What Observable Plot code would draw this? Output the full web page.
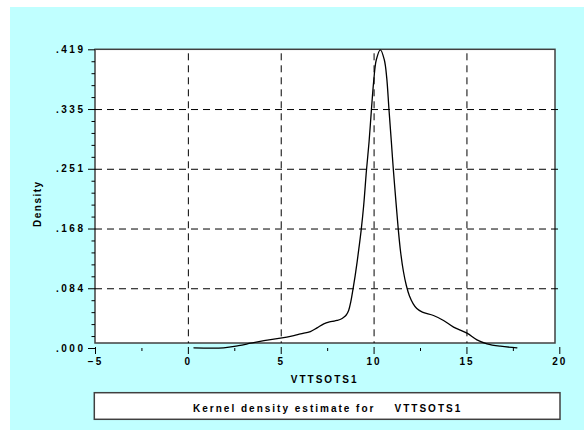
<!DOCTYPE html>
<html><head><meta charset="utf-8">
<script src="https://cdn.jsdelivr.net/npm/d3@7"></script>
<script src="https://cdn.jsdelivr.net/npm/@observablehq/plot@0.6"></script>
<style>
html,body{margin:0;padding:0;background:#fff;}
#chart svg text{letter-spacing:2px;}
#chart g[aria-label="y-axis tick label"] text{letter-spacing:2.5px;}
</style></head><body><div id="chart"></div>
<script>
const densityX = [0.3, 1.9, 2.7, 3.35, 4.07, 4.96, 5.68, 6.04, 6.57, 6.93, 7.29, 7.6, 7.83, 8.0, 8.2, 8.37, 8.5, 8.63, 8.75, 8.87, 8.98, 9.08, 9.18, 9.3, 9.44, 9.59, 9.73, 9.86, 9.98, 10.12, 10.34, 10.55, 10.68, 10.8, 10.93, 11.04, 11.18, 11.3, 11.43, 11.58, 11.74, 11.9, 12.1, 12.3, 12.6, 13.2, 13.74, 14.28, 15.0, 15.54, 16.08, 16.8, 17.69];
const densityY = [0.001, 0.001, 0.004, 0.0074, 0.0112, 0.0144, 0.0182, 0.0206, 0.0238, 0.029, 0.0346, 0.0372, 0.0383, 0.0393, 0.041, 0.0439, 0.047, 0.0533, 0.066, 0.084, 0.102, 0.12, 0.14, 0.165, 0.2006, 0.25, 0.29, 0.336, 0.375, 0.405, 0.419, 0.405, 0.38, 0.336, 0.29, 0.25, 0.205, 0.168, 0.135, 0.108, 0.088, 0.074, 0.063, 0.056, 0.051, 0.0463, 0.0393, 0.030, 0.0215, 0.0122, 0.0066, 0.0032, 0.001];
const xTicks = [-5, 0, 5, 10, 15, 20];
const xMinorTicks = [-2.5, 2.5, 7.5, 12.5, 17.5];
const xGridLines = [0, 5, 10, 15];
const yTicks = [0, 0.0838, 0.1676, 0.2514, 0.3352, 0.419];
const yTickLabels = [".000", ".084", ".168", ".251", ".335", ".419"];
const yMinorTicks = [0.01676, 0.03352, 0.05028, 0.06704, 0.10056, 0.11732, 0.13408, 0.15084, 0.18436, 0.20112, 0.21788, 0.23464, 0.26816, 0.28492, 0.30168, 0.31844, 0.35196, 0.36872, 0.38548, 0.40224];
const yGridLines = [0.0838, 0.1676, 0.2514, 0.3352];
const xLabel = "VTTSOTS1";
const yLabel = "Density";
const caption = "Kernel density estimate for\u00a0\u00a0\u00a0\u00a0VTTSOTS1";

const dash = "7,5";
const plot = Plot.plot({
  width: 584, height: 430,
  marginLeft: 95, marginRight: 24.7, marginTop: 49.3, marginBottom: 82,
  style: {fontFamily: "'Liberation Sans', Arial, sans-serif", fontSize: "10px", fontWeight: "bold", background: "transparent", color: "black"},
  x: {domain: [-5, 20]},
  y: {domain: [0, 0.419]},
  marks: [
    Plot.ruleY(yGridLines, {stroke: "black", strokeDasharray: dash, strokeWidth: 1}),
    Plot.ruleX(xGridLines, {stroke: "black", strokeDasharray: dash, strokeWidth: 1, insetTop: 4, insetBottom: 5}),
    Plot.line(densityX, {x: densityX, y: densityY, curve: "catmull-rom", stroke: "black", strokeWidth: 1.3}),
    Plot.axisY({ticks: yTicks, tickSize: 7, tickPadding: 3, tickFormat: d => yTickLabels[yTicks.indexOf(d)], label: null}),
    Plot.axisY({ticks: yMinorTicks, tickSize: 3.5, tickFormat: () => "", label: null}),
    Plot.axisX({ticks: xTicks, tickSize: 7, tickPadding: 3, dy: -1, label: null}),
    Plot.axisX({ticks: xMinorTicks, tickSize: 3, tickFormat: () => "", label: null}),
    Plot.text([xLabel], {frameAnchor: "bottom", text: d => d, dy: 31, dx: -3, lineAnchor: "middle", textAnchor: "middle"}),
    Plot.text([yLabel], {frameAnchor: "left", text: d => d, rotate: -90, dx: -58, dy: 4.5, lineAnchor: "middle", textAnchor: "middle"}),
    Plot.text([caption], {frameAnchor: "bottom", text: d => d, dy: 60, dx: 0, lineAnchor: "middle", textAnchor: "middle"})
  ]
});

const svg = d3.select(plot);
const sx = plot.scale("x"), sy = plot.scale("y");
const panelLeft = sx.apply(-5), panelRight = sx.apply(20) - 4.3;
const panelTop = sy.apply(0.419), panelBottom = sy.apply(0) - 5;
// caption box
svg.insert("rect", ":first-child")
  .attr("x", panelLeft - 0.7).attr("y", 392.7).attr("width", sx.apply(20) + 0.7 - (panelLeft - 0.7)).attr("height", 26.6)
  .attr("fill", "white").attr("stroke", "#404040").attr("stroke-width", 1.5);
// white plotting panel
svg.insert("rect", ":first-child")
  .attr("x", panelLeft).attr("y", panelTop).attr("width", panelRight - panelLeft).attr("height", panelBottom - panelTop)
  .attr("fill", "white").attr("stroke", "#404040").attr("stroke-width", 1.5);
// cyan background
svg.insert("rect", ":first-child")
  .attr("x", 10).attr("y", 7).attr("width", 574).attr("height", 423).attr("fill", "#c0ffff");
svg.selectAll("text").filter(function(){ return this.textContent === yLabel; }).style("letter-spacing", "1.5px");

document.getElementById("chart").append(plot);
</script>
</body></html>
